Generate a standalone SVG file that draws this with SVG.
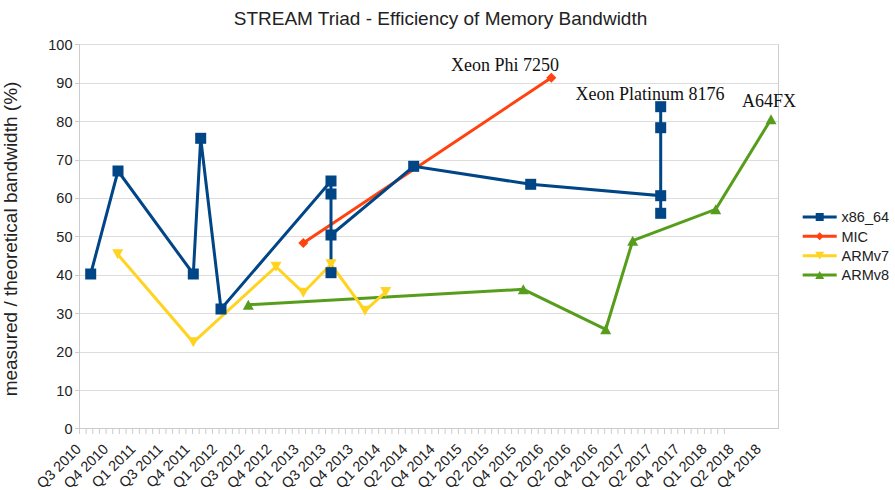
<svg xmlns="http://www.w3.org/2000/svg" xmlns:xlink="http://www.w3.org/1999/xlink" width="895" height="490" viewBox="0 0 895 490">
<style>
.grid{stroke:#dddddd;stroke-width:1;fill:none}
.axis{stroke:#cccccc;stroke-width:1;fill:none}
.tl{font-family:"Liberation Sans",Arial,sans-serif;font-size:14.5px;fill:#222222}
.yl{text-anchor:end}
.xl{text-anchor:end}
.ann{font-family:"Liberation Serif","Times New Roman",serif;font-size:18px;fill:#111111;text-anchor:middle}
.s{fill:none;stroke-width:3;stroke-linejoin:miter}
.x86{stroke:#004586}
.mic{stroke:#ff420e}
.v7{stroke:#ffd320}
.v8{stroke:#579d1c}
</style>
<defs>
<rect id="sq" x="-5.5" y="-5.5" width="11" height="11" fill="#004586"/>
<polygon id="dm" points="0,-5 5,0 0,5 -5,0" fill="#ff420e"/>
<polygon id="td" points="-5.5,-5 5.5,-5 0,5" fill="#ffd320"/>
<polygon id="tu" points="0,-5 5.5,5 -5.5,5" fill="#579d1c"/>
<rect id="lsq" x="-4" y="-4" width="8" height="8" fill="#004586"/>
<polygon id="ldm" points="0,-4 4,0 0,4 -4,0" fill="#ff420e"/>
<polygon id="ltd" points="-4.5,-4 4.5,-4 0,4" fill="#ffd320"/>
<polygon id="ltu" points="0,-4 4.5,4 -4.5,4" fill="#579d1c"/>
</defs>
<rect width="895" height="490" fill="#ffffff"/>
<text x="440.5" y="25" text-anchor="middle" style="font-family:'Liberation Sans',Arial,sans-serif;font-size:19px;fill:#222222">STREAM Triad - Efficiency of Memory Bandwidth</text>
<text transform="translate(17,239) rotate(-90)" text-anchor="middle" style="font-family:'Liberation Sans',Arial,sans-serif;font-size:19px;fill:#222222">measured / theoretical bandwidth (%)</text>
<g id="grid">
<path class="grid" d="M80 44.5H778.5M80 83.5H778.5M80 121.5H778.5M80 160.5H778.5M80 198.5H778.5M80 236.5H778.5M80 275.5H778.5M80 313.5H778.5M80 352.5H778.5M80 390.5H778.5"/>
<path class="axis" d="M79.5 44.5V429M778.5 44.5V429M79.5 428.5H778.5M75 44.5H80M75 83.5H80M75 121.5H80M75 160.5H80M75 198.5H80M75 236.5H80M75 275.5H80M75 313.5H80M75 352.5H80M75 390.5H80M75 428.5H80"/>
<path class="axis" d="M79.5 429v5m6.648-5v5m6.648-5v5m6.648-5v5m6.648-5v5m6.648-5v5m6.648-5v5m6.648-5v5m6.648-5v5m6.648-5v5m6.648-5v5m6.648-5v5m6.648-5v5m6.648-5v5m6.648-5v5m6.648-5v5m6.648-5v5m6.648-5v5m6.648-5v5m6.648-5v5m6.648-5v5m6.648-5v5m6.648-5v5m6.648-5v5m6.648-5v5m6.648-5v5m6.648-5v5m6.648-5v5m6.648-5v5m6.648-5v5m6.648-5v5m6.648-5v5m6.648-5v5m6.648-5v5m6.648-5v5m6.648-5v5m6.648-5v5m6.648-5v5m6.648-5v5m6.648-5v5m6.648-5v5m6.648-5v5m6.648-5v5m6.648-5v5m6.648-5v5m6.648-5v5m6.648-5v5m6.648-5v5m6.648-5v5m6.648-5v5m6.648-5v5m6.648-5v5m6.648-5v5m6.648-5v5m6.648-5v5m6.648-5v5m6.648-5v5m6.648-5v5m6.648-5v5m6.648-5v5m6.648-5v5m6.648-5v5m6.648-5v5m6.648-5v5m6.648-5v5m6.648-5v5m6.648-5v5m6.648-5v5m6.648-5v5m6.648-5v5m6.648-5v5m6.648-5v5m6.648-5v5m6.648-5v5m6.648-5v5m6.648-5v5m6.648-5v5m6.648-5v5m6.648-5v5m6.648-5v5m6.648-5v5m6.648-5v5m6.648-5v5m6.648-5v5m6.648-5v5m6.648-5v5m6.648-5v5m6.648-5v5m6.648-5v5m6.648-5v5m6.648-5v5m6.648-5v5m6.648-5v5m6.648-5v5m6.648-5v5m6.648-5v5m6.648-5v5m6.648-5v5"/>
</g>
<g id="y-labels" class="tl yl">
<text x="72.5" y="49.7">100</text>
<text x="72.5" y="88.2">90</text>
<text x="72.5" y="126.6">80</text>
<text x="72.5" y="165">70</text>
<text x="72.5" y="203.4">60</text>
<text x="72.5" y="241.9">50</text>
<text x="72.5" y="280.3">40</text>
<text x="72.5" y="318.7">30</text>
<text x="72.5" y="357.1">20</text>
<text x="72.5" y="395.6">10</text>
<text x="72.5" y="434">0</text>
</g>
<g id="x-labels" class="tl xl">
<text transform="translate(82,450) rotate(-45)">Q3 2010</text>
<text transform="translate(109.2,450) rotate(-45)">Q4 2010</text>
<text transform="translate(136.4,450) rotate(-45)">Q1 2011</text>
<text transform="translate(163.6,450) rotate(-45)">Q3 2011</text>
<text transform="translate(190.8,450) rotate(-45)">Q4 2011</text>
<text transform="translate(218,450) rotate(-45)">Q1 2012</text>
<text transform="translate(245.2,450) rotate(-45)">Q3 2012</text>
<text transform="translate(272.4,450) rotate(-45)">Q4 2012</text>
<text transform="translate(299.6,450) rotate(-45)">Q1 2013</text>
<text transform="translate(326.8,450) rotate(-45)">Q3 2013</text>
<text transform="translate(354,450) rotate(-45)">Q4 2013</text>
<text transform="translate(381.2,450) rotate(-45)">Q1 2014</text>
<text transform="translate(408.4,450) rotate(-45)">Q2 2014</text>
<text transform="translate(435.6,450) rotate(-45)">Q4 2014</text>
<text transform="translate(462.8,450) rotate(-45)">Q1 2015</text>
<text transform="translate(490,450) rotate(-45)">Q2 2015</text>
<text transform="translate(517.2,450) rotate(-45)">Q4 2015</text>
<text transform="translate(544.4,450) rotate(-45)">Q1 2016</text>
<text transform="translate(571.6,450) rotate(-45)">Q2 2016</text>
<text transform="translate(598.8,450) rotate(-45)">Q4 2016</text>
<text transform="translate(626,450) rotate(-45)">Q1 2017</text>
<text transform="translate(653.2,450) rotate(-45)">Q2 2017</text>
<text transform="translate(680.4,450) rotate(-45)">Q4 2017</text>
<text transform="translate(707.6,450) rotate(-45)">Q1 2018</text>
<text transform="translate(734.8,450) rotate(-45)">Q2 2018</text>
<text transform="translate(762,450) rotate(-45)">Q4 2018</text>
</g>
<g id="connectors">
<polyline class="s v8" points="248.3,304.7 523.3,289.3 605.7,329.3 632.7,240.7 715.7,209.3 771,119.3"/>
<polyline class="s v7" points="117.7,254.3 193.3,342.3 276,266.7 303.3,292.7 331,264.3 365,310.7 385.7,292"/>
<polyline class="s mic" points="303.3,243 551.3,77.7"/>
<polyline class="s x86" points="90.7,274 118,171 193.3,274 200.7,138.3 221,309 331,181 331,194 331,272.7 331,235 413.7,166.3 530.7,184.3 660.7,195.7 660.7,213.3 660.7,106.7 660.7,127.7"/>
</g>
<g id="ARMv8">
<use xlink:href="#tu" x="248.3" y="304.7"/><use xlink:href="#tu" x="523.3" y="289.3"/><use xlink:href="#tu" x="605.7" y="329.3"/><use xlink:href="#tu" x="632.7" y="240.7"/><use xlink:href="#tu" x="715.7" y="209.3"/><use xlink:href="#tu" x="771" y="119.3"/>
</g>
<g id="ARMv7">
<use xlink:href="#td" x="117.7" y="254.3"/><use xlink:href="#td" x="193.3" y="342.3"/><use xlink:href="#td" x="276" y="266.7"/><use xlink:href="#td" x="303.3" y="292.7"/><use xlink:href="#td" x="331" y="264.3"/><use xlink:href="#td" x="365" y="310.7"/><use xlink:href="#td" x="385.7" y="292"/>
</g>
<g id="MIC">
<use xlink:href="#dm" x="303.3" y="243"/><use xlink:href="#dm" x="551.3" y="77.7"/>
</g>
<g id="x86_64">
<use xlink:href="#sq" x="90.7" y="274"/><use xlink:href="#sq" x="118" y="171"/><use xlink:href="#sq" x="193.3" y="274"/><use xlink:href="#sq" x="200.7" y="138.3"/><use xlink:href="#sq" x="221" y="309"/><use xlink:href="#sq" x="331" y="181"/><use xlink:href="#sq" x="331" y="194"/><use xlink:href="#sq" x="331" y="235"/><use xlink:href="#sq" x="331" y="272.7"/><use xlink:href="#sq" x="413.7" y="166.3"/><use xlink:href="#sq" x="530.7" y="184.3"/><use xlink:href="#sq" x="660.7" y="195.7"/><use xlink:href="#sq" x="660.7" y="213.3"/><use xlink:href="#sq" x="660.7" y="106.7"/><use xlink:href="#sq" x="660.7" y="127.7"/>
</g>
<g id="annotations">
<text class="ann" x="505" y="70.5">Xeon Phi 7250</text>
<text class="ann" x="650" y="99.5">Xeon Platinum 8176</text>
<text class="ann" x="769" y="106.5">A64FX</text>
</g>
<g id="legend">
<path class="s x86" d="M802.7 217H836.7"/><use xlink:href="#lsq" x="819.7" y="217"/>
<text class="tl" x="841.5" y="222.2">x86_64</text>
<path class="s mic" d="M802.7 236.3H836.7"/><use xlink:href="#ldm" x="819.7" y="236.3"/>
<text class="tl" x="841.5" y="241.5">MIC</text>
<path class="s v7" d="M802.7 255.7H836.7"/><use xlink:href="#ltd" x="819.7" y="255.7"/>
<text class="tl" x="841.5" y="260.9">ARMv7</text>
<path class="s v8" d="M802.7 275H836.7"/><use xlink:href="#ltu" x="819.7" y="275"/>
<text class="tl" x="841.5" y="280.2">ARMv8</text>
</g>
</svg>
